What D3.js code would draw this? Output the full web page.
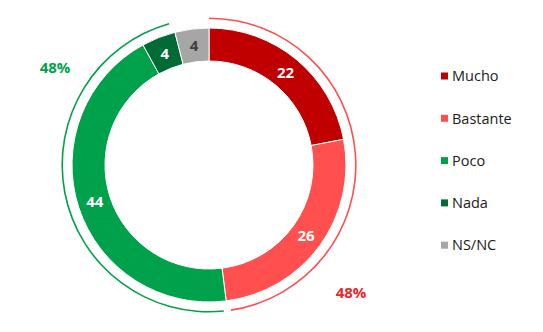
<!DOCTYPE html>
<html>
<head>
<meta charset="utf-8">
<script src="https://cdn.jsdelivr.net/npm/d3@7"></script>
<style>
body{margin:0;background:#fff;}
</style>
</head>
<body>
<div id="chart-area"></div>
<script>
var categories=["Mucho","Bastante","Poco","Nada","NS/NC"];
var values=[22,26,44,4,4];
var colors=["#C00000","#FF4F4F","#00A14B","#006B35","#A6A6A6"];
var labelColors=["#fff","#fff","#fff","#fff","#404040"];
// grouped totals shown on the outer rings
var groups=["Positivo","Negativo"];
var groupValues=[48,48];
var groupSpan=[[0,2],[2,4]];
var groupColors=["#FF4F4F","#00A14B"];
var groupTextColors=["#E8262C","#00A14B"];

var width=543, height=332;
var cx=209, cy=165;

var svg=d3.select("#chart-area").append("svg")
    .attr("width",width)
    .attr("height",height);

var g=svg.append("g")
    .attr("transform","translate("+cx+","+cy+")");

var pie=d3.pie().sort(null).value(function(d){return d;});
var slices=pie(values);

var arc=d3.arc().innerRadius(104).outerRadius(137);
var labelArc=d3.arc().innerRadius(120).outerRadius(120);

g.selectAll("path.slice")
    .data(slices)
    .enter().append("path")
    .attr("class","slice")
    .attr("d",arc)
    .attr("fill",function(d,i){return colors[i];})
    .attr("stroke","#fff")
    .attr("stroke-width",1);

g.selectAll("text.val")
    .data(slices)
    .enter().append("text")
    .attr("class","val")
    .attr("transform",function(d){return "translate("+labelArc.centroid(d)+")";})
    .attr("dy","0.36em")
    .attr("text-anchor","middle")
    .attr("font-family","'Open Sans', sans-serif")
    .attr("font-weight","bold")
    .attr("font-size","15px")
    .attr("fill",function(d,i){return labelColors[i];})
    .text(function(d){return d.data;});

// outer group rings
var ringArc=d3.arc().innerRadius(146).outerRadius(147.6);
var pad=1.4*Math.PI/180;
groupSpan.forEach(function(s,i){
    var a0=slices[s[0]].startAngle, a1=slices[s[1]-1].endAngle;
    g.append("path")
        .attr("d",ringArc({startAngle:a0+(i==0?0:pad),endAngle:a1-pad}))
        .attr("fill",groupColors[i]);
});

var groupLabelPos=[[351,293],[55,68]];
groupValues.forEach(function(v,i){
    svg.append("text")
        .attr("x",groupLabelPos[i][0])
        .attr("y",groupLabelPos[i][1])
        .attr("dy","0.36em")
        .attr("text-anchor","middle")
        .attr("font-family","'Open Sans', sans-serif")
        .attr("font-weight","bold")
        .attr("font-size","15px")
        .attr("fill",groupTextColors[i])
        .text(v+"%");
});

var legend=svg.append("g")
    .attr("transform","translate(441,76)");

categories.forEach(function(c,i){
    var row=legend.append("g")
        .attr("transform","translate(0,"+(i*42.3)+")");
    row.append("rect")
        .attr("x",0)
        .attr("y",-3.5)
        .attr("width",7)
        .attr("height",7)
        .attr("fill",colors[i]);
    row.append("text")
        .attr("x",11)
        .attr("y",0)
        .attr("dy","0.36em")
        .attr("font-family","'Open Sans', sans-serif")
        .attr("font-size","14.5px")
        .attr("fill","#1a1a1a")
        .text(c);
});
</script>
</body>
</html>
